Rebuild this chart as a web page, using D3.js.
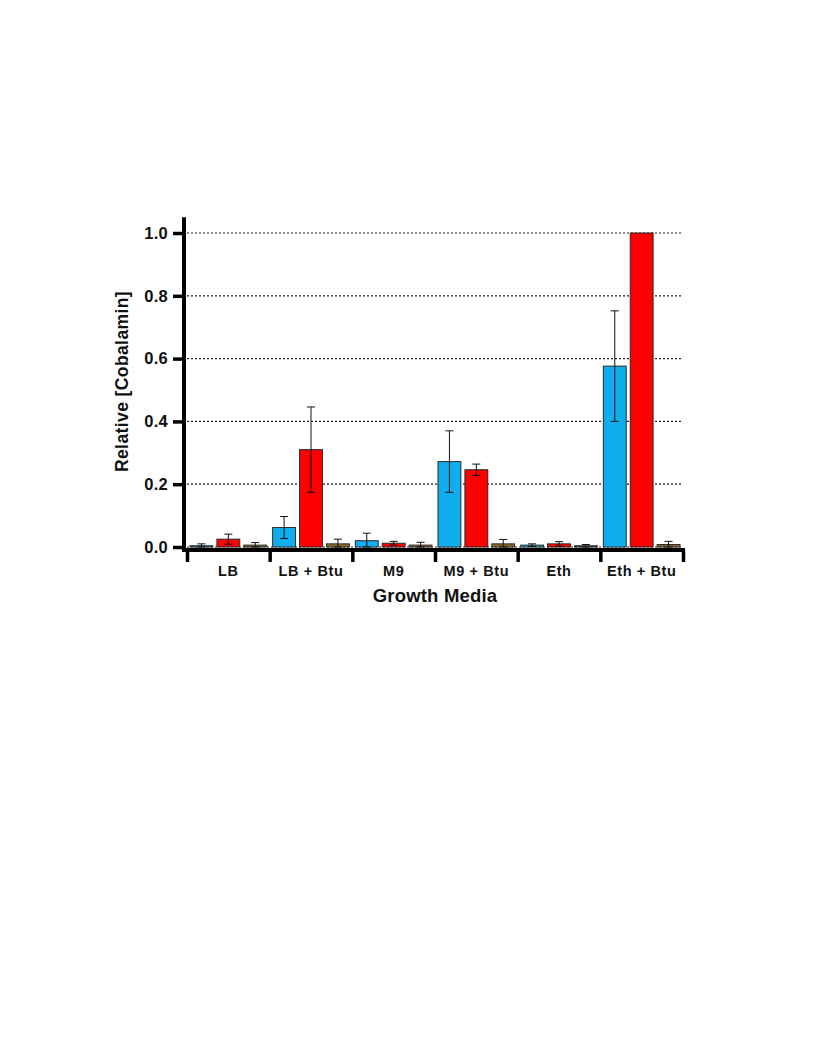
<!DOCTYPE html>
<html>
<head>
<meta charset="utf-8">
<script src="https://cdn.jsdelivr.net/npm/d3@7"></script>
<style>
  html, body { margin: 0; padding: 0; background: #fff; }
  svg { display: block; }
  text { font-family: "Liberation Sans", Arial, sans-serif; font-weight: bold; fill: #111; }
</style>
</head>
<body>
<svg id="chart" width="816" height="1056"></svg>
<script>
const categories = ["LB", "LB + Btu", "M9", "M9 + Btu", "Eth", "Eth + Btu"];
const seriesNames = ["A", "B", "C"];
const seriesColors = ["#10AEEF", "#FF0000", "#8A6B25"];
const valuesA = [0.004, 0.062, 0.020, 0.272, 0.006, 0.576];
const valuesB = [0.025, 0.310, 0.012, 0.246, 0.010, 1.000];
const valuesC = [0.006, 0.010, 0.006, 0.010, 0.004, 0.008];
const errA = [0.006, 0.035, 0.024, 0.098, 0.004, 0.176];
const errB = [0.016, 0.136, 0.006, 0.018, 0.007, 0.000];
const errC = [0.008, 0.015, 0.009, 0.014, 0.004, 0.010];
const yTicks = [0.0, 0.2, 0.4, 0.6, 0.8, 1.0];

const svg = d3.select("#chart");

const xLeft = 187, xRight = 683;
const x = d3.scaleBand().domain(categories).range([xLeft, xRight]).padding(0);
const gw = x.bandwidth();
const xi = d3.scaleBand().domain(seriesNames).range([3, gw - 3]).paddingInner(0.15);
const xb = d3.scaleLinear().domain([0, categories.length]).range([xLeft, xRight]);
const y = d3.scaleLinear().domain([0, 1]).range([547, 233]);

// gridlines
svg.append("g").selectAll("line").data(yTicks).join("line")
  .attr("x1", xLeft).attr("x2", xRight)
  .attr("y1", d => y(d)).attr("y2", d => y(d))
  .attr("stroke", "#222").attr("stroke-width", 1.2)
  .attr("stroke-dasharray", "2,2");

// bars
const series = [valuesA, valuesB, valuesC];
const errs = [errA, errB, errC];
const data = [];
categories.forEach((c, i) => {
  seriesNames.forEach((s, j) => {
    data.push({ c, s, v: series[j][i], e: errs[j][i], color: seriesColors[j] });
  });
});

const g = svg.append("g");
g.selectAll("rect").data(data).join("rect")
  .attr("x", d => x(d.c) + xi(d.s))
  .attr("width", xi.bandwidth())
  .attr("y", d => y(d.v))
  .attr("height", d => y(0) - y(d.v))
  .attr("fill", d => d.color)
  .attr("stroke", "#2a2a2a").attr("stroke-width", 1);

// error bars
const eb = svg.append("g").attr("stroke", "#111").attr("stroke-width", 1);
data.filter(d => d.e > 0).forEach(d => {
  const cx = x(d.c) + xi(d.s) + xi.bandwidth() / 2;
  const lo = Math.max(0, d.v - d.e), hi = d.v + d.e;
  eb.append("line").attr("x1", cx).attr("x2", cx).attr("y1", y(lo)).attr("y2", y(hi));
  eb.append("line").attr("x1", cx - 4).attr("x2", cx + 4).attr("y1", y(hi)).attr("y2", y(hi));
  eb.append("line").attr("x1", cx - 4).attr("x2", cx + 4).attr("y1", y(lo)).attr("y2", y(lo));
});

// y axis
const yAxis = d3.axisLeft(y).tickValues(yTicks).tickFormat(d3.format(".1f")).tickSize(11).tickPadding(5).tickSizeOuter(0);
const ya = svg.append("g").attr("transform", "translate(184,0)").call(yAxis);
ya.select(".domain").attr("d", `M0,${y(1.05)}V${y(-0.016)}`).attr("stroke", "#000").attr("stroke-width", 4);
ya.selectAll(".tick line").attr("stroke", "#000").attr("stroke-width", 3.5);
ya.selectAll(".tick text")
  .style("font-size", "16.5px").style("letter-spacing", "0.3px")
  .style("font-family", "Liberation Sans, Arial, sans-serif").style("font-weight", "bold").attr("fill", "#111");

// x axis (group boundary ticks)
const xAxis = d3.axisBottom(xb).tickValues(d3.range(0, categories.length + 1)).tickSize(12).tickFormat("").tickSizeOuter(0);
const xa = svg.append("g").attr("transform", "translate(0,550)").call(xAxis);
xa.select(".domain").attr("d", `M${xLeft - 2},0H${xRight + 2}`).attr("stroke", "#000").attr("stroke-width", 4);
xa.selectAll(".tick line").attr("stroke", "#000").attr("stroke-width", 3.5);

// category labels
svg.append("g").selectAll("text").data(categories).join("text")
  .attr("x", d => x(d) + gw / 2)
  .attr("y", 575.5)
  .attr("text-anchor", "middle")
  .style("font-size", "14.5px")
  .style("letter-spacing", "0.6px")
  .text(d => d);

// axis titles
svg.append("text")
  .attr("x", 435).attr("y", 601.5)
  .attr("text-anchor", "middle")
  .style("font-size", "18.5px")
  .style("letter-spacing", "0.2px")
  .text("Growth Media");

svg.append("text")
  .attr("transform", "translate(127.5,381.5) rotate(-90)")
  .attr("text-anchor", "middle")
  .style("font-size", "17.5px")
  .style("letter-spacing", "0.4px")
  .text("Relative [Cobalamin]");
</script>
</body>
</html>
